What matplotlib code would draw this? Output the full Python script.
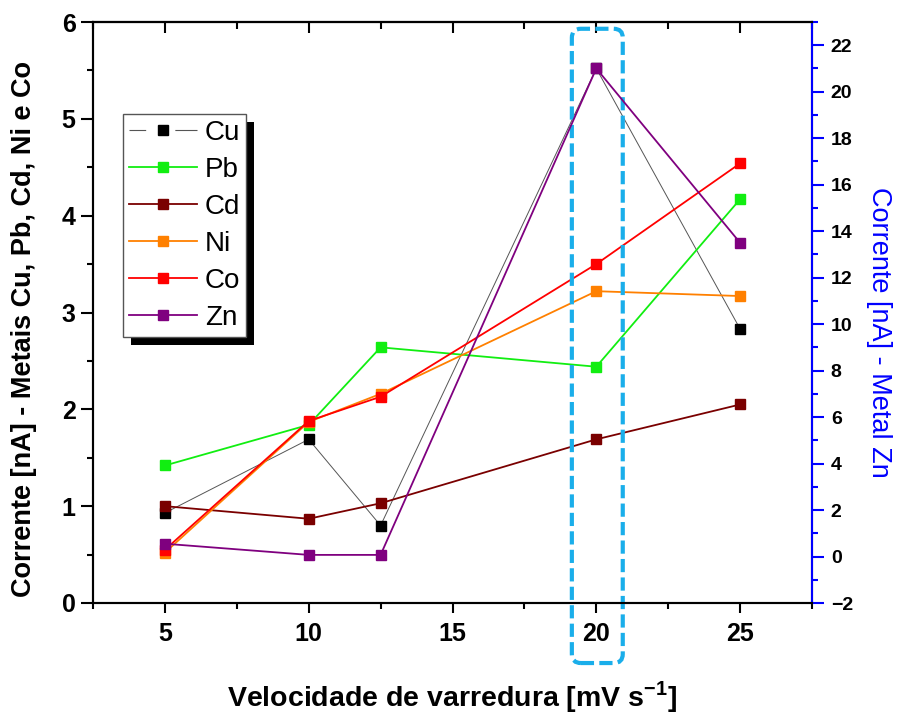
import matplotlib
matplotlib.use("Agg")
import matplotlib.pyplot as plt
from matplotlib.lines import Line2D
from matplotlib.patches import FancyBboxPatch, Rectangle
from matplotlib.ticker import MultipleLocator
from matplotlib.transforms import IdentityTransform

plt.rcParams['font.family'] = ['Liberation Sans', 'DejaVu Sans']
plt.rcParams['lines.scale_dashes'] = False
plt.rcParams['mathtext.fontset'] = 'custom'
plt.rcParams['mathtext.rm'] = 'Liberation Sans'
plt.rcParams['mathtext.bf'] = 'Liberation Sans:bold'

# Scan rates [mV/s]
scan_rate = [5, 10, 12.5, 20, 25]

# Currents [nA] for Cu, Pb, Cd, Ni, Co (left axis)
cu = [0.93, 1.69, 0.80, 5.52, 2.83]
pb = [1.42, 1.84, 2.64, 2.44, 4.17]
cd = [1.00, 0.87, 1.03, 1.69, 2.05]
ni = [0.52, 1.87, 2.16, 3.22, 3.17]
co = [0.55, 1.88, 2.13, 3.50, 4.54]

# Current [nA] for Zn (right axis)
zn = [0.55, 0.07, 0.07, 21.0, 13.5]

names = ['Cu', 'Pb', 'Cd', 'Ni', 'Co', 'Zn']
colors = {
    'Cu': '#000000', 'Pb': '#11EE11', 'Cd': '#7A0000',
    'Ni': '#FF8000', 'Co': '#FF0000', 'Zn': '#7F007F',
}
line_colors = dict(colors, Cu='#555555')

W, H = 897, 722
fig = plt.figure(figsize=(W / 100, H / 100), dpi=100)
ax = fig.add_axes([93 / W, 1 - 603 / H, (812 - 93) / W, (603 - 22) / H])
ax2 = ax.twinx()

ms = 7.2
for name, vals, lw in [('Cu', cu, 0.7), ('Pb', pb, 1.3), ('Cd', cd, 1.3),
                       ('Ni', ni, 1.3), ('Co', co, 1.3)]:
    ax.plot(scan_rate, vals, color=line_colors[name], lw=lw, marker='s',
            ms=ms, mew=1, mfc=colors[name], mec=colors[name], zorder=3)
ax2.plot(scan_rate, zn, color=colors['Zn'], lw=1.3, marker='s', ms=ms,
         mew=1, mfc=colors['Zn'], mec=colors['Zn'], zorder=3)

ax.set_xlim(2.5, 27.5)
ax.set_ylim(0, 6)
ax2.set_ylim(-2, 23)

ax.xaxis.set_major_locator(MultipleLocator(5))
ax.xaxis.set_minor_locator(MultipleLocator(2.5))
ax.yaxis.set_major_locator(MultipleLocator(1))
ax.yaxis.set_minor_locator(MultipleLocator(0.5))
ax2.yaxis.set_major_locator(MultipleLocator(2))
ax2.yaxis.set_minor_locator(MultipleLocator(1))

for a in (ax, ax2):
    for s in a.spines.values():
        s.set_linewidth(1.5)
ax2.spines['right'].set_color('#0000FF')

ax.tick_params(axis='x', which='both', direction='out', top=False,
               width=1.5, labelsize=18, pad=6)
ax.tick_params(axis='x', which='major', length=7.5)
ax.tick_params(axis='x', which='minor', length=4)
ax.tick_params(axis='y', which='both', direction='out', width=1.5,
               labelsize=18, pad=4)
ax.tick_params(axis='y', which='major', length=8.5)
ax.tick_params(axis='y', which='minor', length=4)
ax2.tick_params(axis='y', which='both', direction='out', width=1.5,
                color='#0000FF', labelsize=14, labelcolor='black', pad=5)
ax2.tick_params(axis='y', which='major', length=8.5)
ax2.tick_params(axis='y', which='minor', length=4.3)

# ticks on the top edge, pointing inwards
secx = ax.secondary_xaxis('top')
secx.xaxis.set_major_locator(MultipleLocator(5))
secx.xaxis.set_minor_locator(MultipleLocator(2.5))
secx.tick_params(which='major', direction='in', length=8, width=1.5,
                 labeltop=False)
secx.tick_params(which='minor', direction='in', length=5, width=1.5)
secx.spines['top'].set_linewidth(1.5)

for lbl in ax.get_xticklabels() + ax.get_yticklabels() + ax2.get_yticklabels():
    lbl.set_fontweight('bold')

ax.set_xlabel('Velocidade de varredura [mV s$^{\\mathbf{-1}}$]',
              fontsize=20.5, fontweight='bold')
ax.xaxis.label.set_va('baseline')
ax.xaxis.set_label_coords(0.499, (603 - 706) / 581)

ax.set_ylabel('Corrente [nA] - Metais Cu, Pb, Cd, Ni e Co',
              fontsize=19.5, fontweight='bold')
ax.yaxis.label.set_va('center')
ax.yaxis.set_label_coords((24 - 93) / 719, (603 - 329) / 581)

ax2.set_ylabel('Corrente [nA] - Metal Zn', fontsize=19.5, color='#0000FF',
               rotation=270)
ax2.yaxis.label.set_va('center')
ax2.yaxis.set_label_coords(1 + (879 - 812) / 719, (603 - 332) / 581)

# legend with proxy handles (Cu line broken around the marker)
handles = []
for name in names:
    if name == 'Cu':
        h = Line2D([], [], color='#555555', lw=0.8, marker='s', ms=ms,
                   mew=1, mfc='black', mec='black', dashes=(12, 21, 20, 0))
    else:
        h = Line2D([], [], color=line_colors[name], lw=1.3, marker='s',
                   ms=ms, mew=1, mfc=colors[name], mec=colors[name])
    handles.append(h)
leg = ax.legend(handles, names,
                loc='upper left', bbox_to_anchor=(123 / W, 1 - 114 / H),
                bbox_transform=fig.transFigure, fontsize=20,
                handlelength=2.45, handletextpad=0.3, labelspacing=0.4,
                borderpad=0.2, borderaxespad=0, fancybox=False,
                framealpha=1, edgecolor='#555555')
leg.get_frame().set_linewidth(1.0)
leg.set_zorder(6)

fig.canvas.draw()
bb = leg.get_window_extent()
shadow = Rectangle((bb.x0 + 8, bb.y0 - 8), bb.width, bb.height,
                   transform=IdentityTransform(), facecolor='black',
                   edgecolor='none', zorder=5.9, clip_on=False)
ax.add_artist(shadow)

# dashed rounded box highlighting the 20 mV/s scan rate
(x0, y0) = ax.transData.transform((19.15, -0.62))
(x1, y1) = ax.transData.transform((20.92, 5.93))
box = FancyBboxPatch((x0, y0), x1 - x0, y1 - y0,
                     boxstyle='round,pad=0,rounding_size=9',
                     transform=IdentityTransform(), fill=False,
                     edgecolor='#1AAEEA', lw=3.0, ls=(0, (9.5, 3.8)),
                     zorder=7, clip_on=False)
ax.add_artist(box)

fig.savefig('out.png', dpi=100)
